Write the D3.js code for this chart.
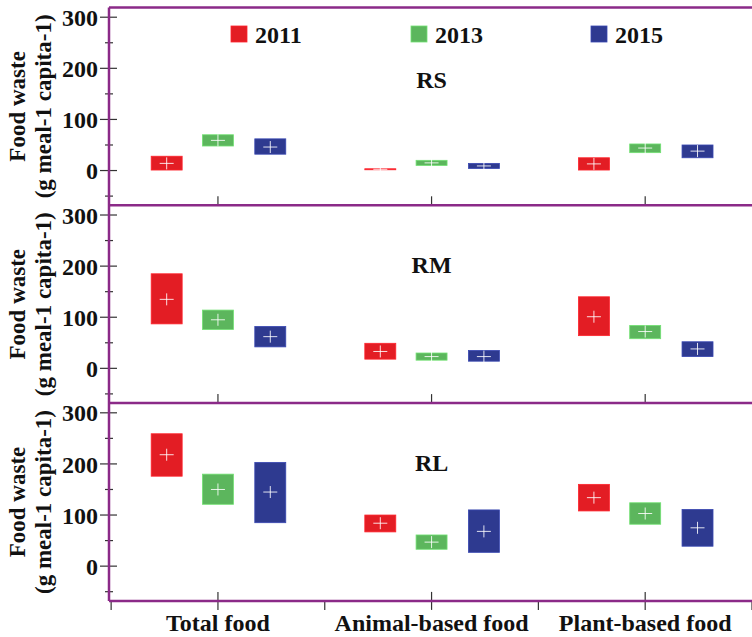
<!DOCTYPE html>
<html>
<head>
<meta charset="utf-8">
<script src="https://cdn.jsdelivr.net/npm/d3@7"></script>
<style>
  body { margin: 0; background: white; }
  text { font-family: "Liberation Serif", "Times New Roman", serif; font-weight: bold; fill: #111; }
</style>
</head>
<body>
<div id="canvas"></div>
<script>
var w = 752;
var h = 637;
var left = 109;
var top0 = 7.5;
var panelH = 197.8;
var frameColor = "#8b2a88";

var categories = ["Total food", "Animal-based food", "Plant-based food"];
var years = ["2011", "2013", "2015"];
var colors = ["#e31d24", "#5cb65d", "#2e3a90"];
var sites = ["RS", "RM", "RL"];
var yTicks = [0, 100, 200, 300];
var yMinor = [-50, 50, 150, 250];

// rows: category x year -> [low, high, mean]
var rsValues = [
    [1, 28, 14], [48, 70, 59], [32, 62, 46],
    [1.5, 3.5, 2.5], [10, 20, 15], [4, 14, 9],
    [1, 25, 13], [35, 52, 44], [25, 50, 38]
];
var rmValues = [
    [87, 185, 135], [76, 114, 95], [42, 82, 62],
    [18, 49, 33], [16, 30, 23], [14, 35, 23],
    [64, 140, 101], [58, 84, 72], [23, 52, 38]
];
var rlValues = [
    [176, 259, 218], [121, 180, 150], [85, 203, 145],
    [67, 100, 84], [33, 61, 47], [27, 110, 68],
    [108, 160, 134], [82, 124, 103], [39, 111, 75]
];
var siteValues = [rsValues, rmValues, rlValues];
var titleY = [88, 273, 471];

var canvas = d3.select("#canvas")
    .append("svg")
    .attr("width", w)
    .attr("height", h);

// x in category units, 1..3 at the centres
var xScale = d3.scaleLinear()
    .domain([0.49, 3.5])
    .range([left, 752]);

var offset = d3.scaleOrdinal()
    .domain(years)
    .range([-0.24, 0, 0.245]);

var boxW = xScale(0.145) - xScale(0);

sites.forEach(function (site, p) {
    var y0 = top0 + p * panelH;
    var yScale = d3.scaleLinear()
        .domain([-68, 319])
        .range([y0 + panelH, y0]);

    var g = canvas.append("g");

    // y axis: major ticks cross the line, minor ticks are short
    g.selectAll(".major")
        .data(yTicks)
        .join("line")
        .attr("x1", left - 9)
        .attr("x2", left + 8)
        .attr("y1", function (d) { return yScale(d); })
        .attr("y2", function (d) { return yScale(d); })
        .attr("stroke", "#333")
        .attr("stroke-width", 1.2);

    g.selectAll(".minor")
        .data(yMinor)
        .join("line")
        .attr("x1", left - 4)
        .attr("x2", left + 4)
        .attr("y1", function (d) { return yScale(d); })
        .attr("y2", function (d) { return yScale(d); })
        .attr("stroke", "#333")
        .attr("stroke-width", 1.2);

    g.selectAll(".ylab")
        .data(yTicks)
        .join("text")
        .attr("x", 98)
        .attr("y", function (d) { return yScale(d); })
        .attr("dy", "0.36em")
        .attr("text-anchor", "end")
        .attr("font-size", "24px")
        .text(function (d) { return d; });

    // x ticks at category centres, pointing into the panel
    var bottom = y0 + panelH;
    g.selectAll(".xtick")
        .data(categories)
        .join("line")
        .attr("x1", function (d, i) { return xScale(i + 1); })
        .attr("x2", function (d, i) { return xScale(i + 1); })
        .attr("y1", bottom - 9)
        .attr("y2", p == 2 ? bottom + 9 : bottom)
        .attr("stroke", "#333")
        .attr("stroke-width", 1.2);

    // y axis title, two lines
    var cy = y0 + panelH / 2;
    g.append("text")
        .attr("transform", "translate(25," + cy + ") rotate(-90)")
        .attr("text-anchor", "middle")
        .attr("font-size", "23px")
        .text("Food waste");
    g.append("text")
        .attr("transform", "translate(51," + cy + ") rotate(-90)")
        .attr("text-anchor", "middle")
        .attr("font-size", "23px")
        .text("(g meal-1 capita-1)");

    // boxes: low..high, white cross at the mean
    var rows = siteValues[p].map(function (v, i) {
        return { cat: Math.floor(i / 3) + 1, year: years[i % 3], color: colors[i % 3], low: v[0], high: v[1], mean: v[2] };
    });

    g.selectAll(".box")
        .data(rows)
        .join("rect")
        .attr("x", function (d) { return xScale(d.cat + offset(d.year)) - boxW / 2; })
        .attr("y", function (d) { return yScale(d.high); })
        .attr("width", boxW)
        .attr("height", function (d) { return yScale(d.low) - yScale(d.high); })
        .attr("fill", function (d) { return d.color; })
        .attr("stroke", function (d) { return d3.color(d.color).brighter(0.6); })
        .attr("stroke-width", 0.8);

    g.selectAll(".hbar")
        .data(rows)
        .join("line")
        .attr("x1", function (d) { return xScale(d.cat + offset(d.year)) - 7; })
        .attr("x2", function (d) { return xScale(d.cat + offset(d.year)) + 7; })
        .attr("y1", function (d) { return yScale(d.mean); })
        .attr("y2", function (d) { return yScale(d.mean); })
        .attr("stroke", "white")
        .attr("stroke-opacity", 0.85)
        .attr("stroke-width", 1);

    g.selectAll(".vbar")
        .data(rows)
        .join("line")
        .attr("x1", function (d) { return xScale(d.cat + offset(d.year)); })
        .attr("x2", function (d) { return xScale(d.cat + offset(d.year)); })
        .attr("y1", function (d) { return yScale(d.mean) - 6; })
        .attr("y2", function (d) { return yScale(d.mean) + 6; })
        .attr("stroke", "white")
        .attr("stroke-opacity", 0.85)
        .attr("stroke-width", 1);

    g.append("text")
        .attr("x", xScale(2))
        .attr("y", titleY[p])
        .attr("text-anchor", "middle")
        .attr("font-size", "24px")
        .text(site);
});

// minor x ticks on the bottom panel only
var bottomY = top0 + 3 * panelH;
canvas.selectAll(".xminor")
    .data([0.5, 1.5, 2.5, 3.5])
    .join("line")
    .attr("x1", function (d) { return xScale(d); })
    .attr("x2", function (d) { return xScale(d); })
    .attr("y1", bottomY)
    .attr("y2", bottomY + 9)
    .attr("stroke", "#333")
    .attr("stroke-width", 1.2);

canvas.selectAll(".xlab")
    .data(categories)
    .join("text")
    .attr("x", function (d, i) { return xScale(i + 1); })
    .attr("y", 631)
    .attr("text-anchor", "middle")
    .attr("font-size", "24px")
    .text(function (d) { return d; });

// frame lines
var frameY = [0, 1, 2, 3].map(function (i) { return top0 + i * panelH; });
canvas.selectAll(".hframe")
    .data(frameY)
    .join("line")
    .attr("x1", left)
    .attr("x2", w + 2)
    .attr("y1", function (d) { return d; })
    .attr("y2", function (d) { return d; })
    .attr("stroke", frameColor)
    .attr("stroke-width", 2.5);

canvas.append("line")
    .attr("x1", left)
    .attr("x2", left)
    .attr("y1", top0)
    .attr("y2", bottomY)
    .attr("stroke", frameColor)
    .attr("stroke-width", 2.5);

// legend
var legendX = [231, 411, 591];
var legend = canvas.selectAll(".legend")
    .data(years)
    .join("g")
    .attr("transform", function (d, i) { return "translate(" + legendX[i] + ",26)"; });

legend.append("rect")
    .attr("width", 16)
    .attr("height", 16)
    .attr("fill", function (d, i) { return colors[i]; })
    .attr("stroke", function (d, i) { return d3.color(colors[i]).brighter(0.6); })
    .attr("stroke-width", 0.8);

legend.append("text")
    .attr("x", 24)
    .attr("y", 16.5)
    .attr("font-size", "24px")
    .text(function (d) { return d; });
</script>
</body>
</html>
